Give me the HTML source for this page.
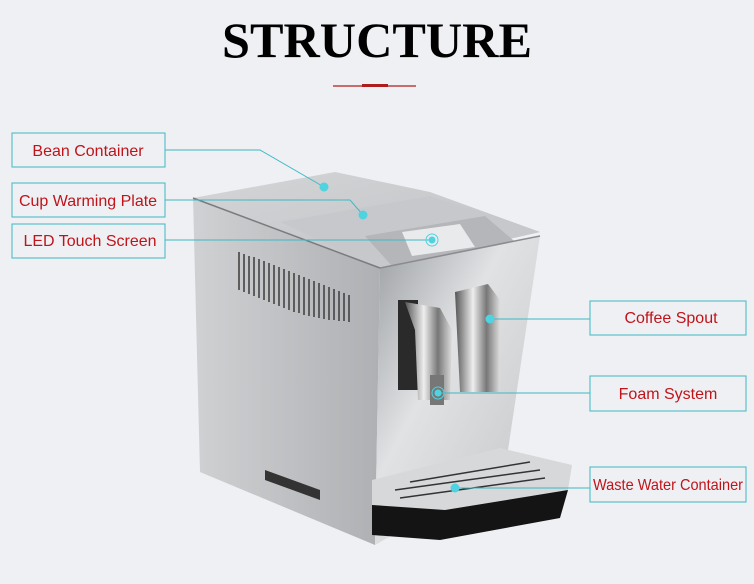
<!DOCTYPE html>
<html><head><meta charset="utf-8"><style>
html,body{margin:0;padding:0;background:#eef0f3;}
svg{display:block}
.lbl{font-family:"Liberation Sans",sans-serif;font-size:16px;fill:#c0141a;}
</style></head><body>
<svg width="754" height="584" viewBox="0 0 754 584" xmlns="http://www.w3.org/2000/svg">
<defs>
<linearGradient id="side" x1="0" y1="0" x2="1" y2="0"><stop offset="0" stop-color="#cfd1d3"/><stop offset="1" stop-color="#aeb0b3"/></linearGradient>
<linearGradient id="front" x1="0" y1="0" x2="1" y2="1"><stop offset="0" stop-color="#9a9da0"/><stop offset="0.4" stop-color="#e0e2e4"/><stop offset="1" stop-color="#c2c4c6"/></linearGradient>
<linearGradient id="top" x1="0" y1="0" x2="1" y2="1"><stop offset="0" stop-color="#d3d5d7"/><stop offset="1" stop-color="#bfc1c4"/></linearGradient>
<linearGradient id="spout" x1="0" y1="0" x2="1" y2="0"><stop offset="0" stop-color="#555"/><stop offset="0.4" stop-color="#eee"/><stop offset="0.7" stop-color="#777"/><stop offset="1" stop-color="#ddd"/></linearGradient>
</defs>
<rect width="754" height="584" fill="#eef0f3"/>
<text x="377" y="57" text-anchor="middle" font-family="Liberation Serif,serif" font-weight="bold" font-size="50" fill="#000" textLength="310" lengthAdjust="spacingAndGlyphs">STRUCTURE</text>
<line x1="333" y1="86" x2="416" y2="86" stroke="#b01c1c" stroke-width="1.2"/>
<rect x="362" y="84" width="26" height="3" fill="#b01c1c"/>

<polygon points="193,198 380,268 375,545 200,472" fill="url(#side)"/>
<polygon points="193,198 335,172 430,192 540,232 380,268" fill="url(#top)"/>
<polygon points="280,222 430,196 540,232 380,268" fill="#c6c8cb"/>
<polygon points="365,236 485,216 520,246 392,266" fill="#b4b6b9"/>
<polygon points="402,232 460,224 475,247 412,256" fill="#e8eaec"/>
<polygon points="380,268 540,236 505,470 375,545" fill="url(#front)"/>
<line x1="193" y1="198" x2="380" y2="268" stroke="#7a7c7f" stroke-width="1.5"/>
<line x1="380" y1="268" x2="540" y2="236" stroke="#8a8c8f" stroke-width="1.5"/>
<g stroke="#444" stroke-width="1.6">
<line x1="239" y1="252" x2="239" y2="290"/><line x1="244" y1="254" x2="244" y2="292"/><line x1="249" y1="256" x2="249" y2="294"/><line x1="254" y1="257" x2="254" y2="296"/><line x1="259" y1="259" x2="259" y2="298"/><line x1="264" y1="261" x2="264" y2="300"/><line x1="269" y1="263" x2="269" y2="302"/><line x1="274" y1="265" x2="274" y2="304"/><line x1="279" y1="267" x2="279" y2="306"/><line x1="284" y1="269" x2="284" y2="308"/><line x1="289" y1="271" x2="289" y2="310"/><line x1="294" y1="273" x2="294" y2="312"/><line x1="299" y1="275" x2="299" y2="313"/><line x1="304" y1="277" x2="304" y2="315"/><line x1="309" y1="279" x2="309" y2="316"/><line x1="314" y1="281" x2="314" y2="317"/><line x1="319" y1="283" x2="319" y2="318"/><line x1="324" y1="285" x2="324" y2="319"/><line x1="329" y1="287" x2="329" y2="320"/><line x1="334" y1="289" x2="334" y2="320"/><line x1="339" y1="291" x2="339" y2="321"/><line x1="344" y1="293" x2="344" y2="321"/><line x1="349" y1="295" x2="349" y2="322"/>
</g>
<polygon points="265,470 320,490 320,500 265,480" fill="#333"/>
<rect x="398" y="300" width="20" height="90" fill="#2a2a2a"/>
<path d="M405 302 L440 308 L452 330 L450 400 L418 400 L415 330 Z" fill="url(#spout)"/>
<path d="M455 292 L488 284 L500 300 L500 392 L460 392 Z" fill="url(#spout)"/>
<rect x="430" y="375" width="14" height="30" fill="#777"/>
<polygon points="372,480 500,448 572,465 568,490 445,510 372,505" fill="#d6d8da"/>
<g stroke="#333" stroke-width="1.5"><line x1="395" y1="490" x2="540" y2="470"/><line x1="400" y1="498" x2="545" y2="478"/><line x1="410" y1="482" x2="530" y2="462"/></g>
<polygon points="372,505 445,510 568,490 560,518 440,540 372,535" fill="#141414"/>

<g stroke="#3fb9c6" stroke-width="1" fill="none">
<polyline points="165,150 260,150 324,187"/>
<polyline points="165,200 350,200 363,215"/>
<line x1="165" y1="240" x2="432" y2="240"/>
<line x1="590" y1="319" x2="490" y2="319"/>
<line x1="590" y1="393" x2="438" y2="393"/>
<line x1="590" y1="488" x2="455" y2="488"/>
<rect x="12" y="133" width="153" height="34"/>
<rect x="12" y="183" width="153" height="34"/>
<rect x="12" y="224" width="153" height="34"/>
<rect x="590" y="301" width="156" height="34"/>
<rect x="590" y="376" width="156" height="35"/>
<rect x="590" y="467" width="156" height="35"/>
</g>
<g fill="#4fd3e0" stroke="#4fd3e0">
<circle cx="324" cy="187" r="4"/><circle cx="363" cy="215" r="4"/><circle cx="432" cy="240" r="3"/><circle cx="432" cy="240" r="6" fill="none"/>
<circle cx="490" cy="319" r="4"/><circle cx="438" cy="393" r="3"/><circle cx="438" cy="393" r="6" fill="none"/><circle cx="455" cy="488" r="4"/>
</g>
<text class="lbl" x="88" y="156" text-anchor="middle">Bean Container</text>
<text class="lbl" x="88" y="206" text-anchor="middle">Cup Warming Plate</text>
<text class="lbl" x="90" y="246" text-anchor="middle">LED Touch Screen</text>
<text class="lbl" x="671" y="323" text-anchor="middle">Coffee Spout</text>
<text class="lbl" x="668" y="399" text-anchor="middle">Foam System</text>
<text class="lbl" x="593" y="490" font-size="13.5" textLength="150" lengthAdjust="spacingAndGlyphs">Waste Water Container</text>
</svg>
</body></html>
